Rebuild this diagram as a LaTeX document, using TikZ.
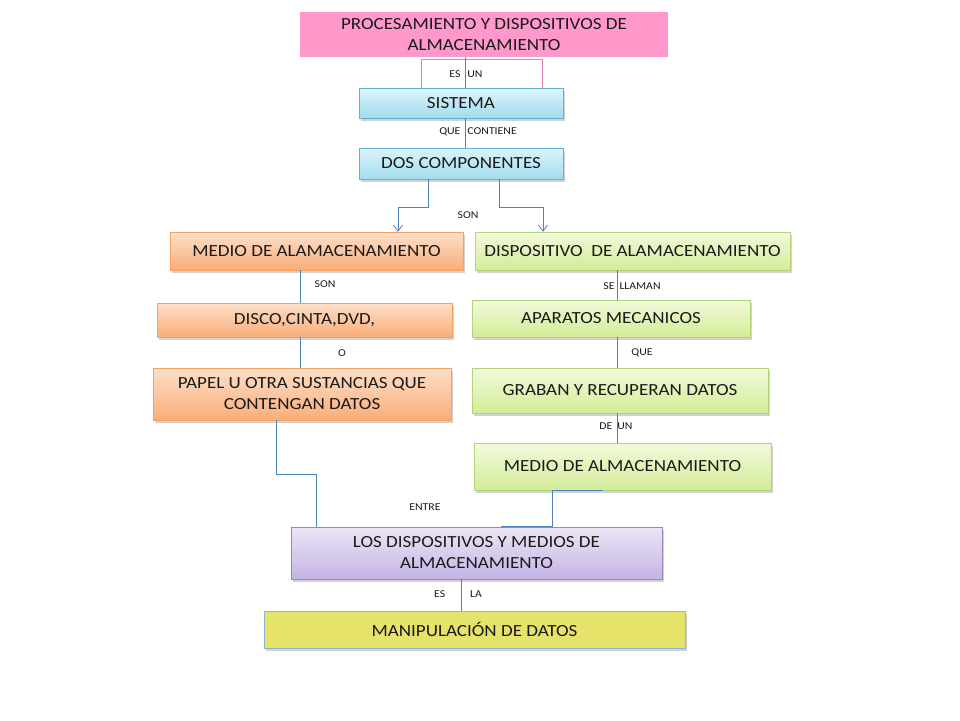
\documentclass[tikz,border=0pt]{standalone}
\usepackage{fontspec}
\setmainfont{Carlito}[FakeStretch=1.12]
\usetikzlibrary{arrows.meta,shadows}
\definecolor{linec}{HTML}{4F81BD}
\definecolor{txt}{HTML}{1A1A1A}
\definecolor{cyandraw}{HTML}{5FB3CF}
\definecolor{cyantop}{HTML}{DCF4FB}
\definecolor{cyanbot}{HTML}{A2DCEF}
\definecolor{orangedraw}{HTML}{F7A160}
\definecolor{orangetop}{HTML}{FEDFC9}
\definecolor{orangebot}{HTML}{F9AD78}
\definecolor{greendraw}{HTML}{B3D57A}
\definecolor{greentop}{HTML}{F2FADC}
\definecolor{greenbot}{HTML}{D3EC96}
\definecolor{purpledraw}{HTML}{9B86BF}
\definecolor{purpletop}{HTML}{ECE6F6}
\definecolor{purplebot}{HTML}{C5B3E5}
\definecolor{pinkfill}{HTML}{FF99CC}
\definecolor{pinkframe}{HTML}{E37DB5}
\definecolor{yellowfill}{HTML}{E6E36A}
\definecolor{yellowdraw}{HTML}{8FB6CC}
\tikzset{
  boxtext/.style={inner sep=0pt, align=center, text=txt, font=\fontsize{17}{21}\selectfont},
  box/.style={rectangle, boxtext,
    drop shadow={shadow xshift=2pt, shadow yshift=-2.5pt, opacity=0.35}},
  cyanbox/.style={box, draw=cyandraw, top color=cyantop, bottom color=cyanbot},
  orangebox/.style={box, draw=orangedraw, top color=orangetop, bottom color=orangebot},
  greenbox/.style={box, draw=greendraw, top color=greentop, bottom color=greenbot},
  purplebox/.style={box, draw=purpledraw, top color=purpletop, bottom color=purplebot},
  lbl/.style={font=\fontsize{10.5}{12}\selectfont, text=txt, inner sep=0pt},
  conn/.style={draw=linec, line width=0.9pt},
  arr/.style={conn, -{Straight Barb[length=6pt,width=9pt,line width=0.8pt]}},
}
\begin{document}
\begin{tikzpicture}[x=1pt,y=-1pt]
\useasboundingbox[fill=white] (0,0) rectangle (960,720);

% nodes
\node[rectangle, fill=pinkfill, boxtext, minimum width=368pt, minimum height=45pt] (top) at (484,34.5) {PROCESAMIENTO Y DISPOSITIVOS DE\\ALMACENAMIENTO};
\node[rectangle, draw=pinkframe, line width=0.6pt, minimum width=121pt, minimum height=29pt, inner sep=0pt] (frame) at (481.5,73.5) {};
\node[cyanbox, minimum width=204pt, minimum height=30pt] (sis) at (461,103) {SISTEMA};
\node[cyanbox, minimum width=204pt, minimum height=31pt] (dos) at (461,163.5) {DOS COMPONENTES};
\node[orangebox, minimum width=293pt, minimum height=38pt] (med1) at (316.5,251) {MEDIO DE ALAMACENAMIENTO};
\node[greenbox, minimum width=315pt, minimum height=38pt] (disp) at (632.5,251) {DISPOSITIVO\ \ DE ALAMACENAMIENTO};
\node[orangebox, minimum width=295pt, minimum height=34pt] (disco) at (304.5,320) {DISCO,CINTA,DVD,};
\node[orangebox, minimum width=298pt, minimum height=52pt] (papel) at (302,394) {PAPEL U OTRA SUSTANCIAS QUE\\CONTENGAN DATOS};
\node[greenbox, minimum width=278pt, minimum height=37pt] (apar) at (611,318.5) {APARATOS MECANICOS};
\node[greenbox, minimum width=296pt, minimum height=45pt] (grab) at (620,390.5) {GRABAN Y RECUPERAN DATOS};
\node[greenbox, minimum width=297pt, minimum height=47pt] (med2) at (622.5,466.5) {MEDIO DE ALMACENAMIENTO};
\node[purplebox, minimum width=371pt, minimum height=52pt] (los) at (476.5,553) {LOS DISPOSITIVOS Y MEDIOS DE\\ALMACENAMIENTO};
\node[box, fill=yellowfill, draw=yellowdraw, minimum width=421pt, minimum height=37pt] (man) at (474.5,629.5) {MANIPULACIÓN DE DATOS};

% labels
\node[lbl] (l1) at (466,74) {ES\hspace{7pt}UN};
\node[lbl] (l2) at (478,132) {QUE\hspace{7pt}CONTIENE};
\node[lbl] (l3) at (468,215) {SON};
\node[lbl] (l4) at (325,284) {SON};
\node[lbl] (l5) at (632,286) {SE\hspace{5pt}LLAMAN};
\node[lbl] (l6) at (342,353) {O};
\node[lbl] (l7) at (642,353) {QUE};
\node[lbl] (l8) at (616,426) {DE\hspace{5pt}UN};
\node[lbl] (l9) at (425,507) {ENTRE};
\node[lbl] (l10) at (458,594) {ES\hspace{25pt}LA};

% connectors
\draw[conn] (top.south -| 465,0) -- (sis.north -| 465,0);
\draw[conn] (sis.south -| 465,0) -- (dos.north -| 465,0);
\draw[arr] (dos.south -| 428,0) -- (428,207) -- (398,207) -- (med1.north -| 398,0);
\draw[arr] (dos.south -| 499,0) -- (499,207) -- (543,207) -- (disp.north -| 543,0);
\draw[conn] (med1.south -| 300,0) -- (disco.north -| 300,0);
\draw[conn] (disco.south -| 300,0) -- (papel.north -| 300,0);
\draw[conn] (disp.south -| 617,0) -- (apar.north -| 617,0);
\draw[conn] (apar.south -| 617,0) -- (grab.north -| 617,0);
\draw[conn] (grab.south -| 617,0) -- (med2.north -| 617,0);
\draw[conn] (papel.south -| 276,0) -- (276,474) -- (316,474) -- (los.north -| 316,0);
\draw[conn] (med2.south -| 603,0) -- (med2.south -| 552,0) -- (los.north -| 552,0) -- (los.north -| 501,0);
\draw[conn] (los.south -| 461,0) -- (man.north -| 461,0);
\end{tikzpicture}
\end{document}
